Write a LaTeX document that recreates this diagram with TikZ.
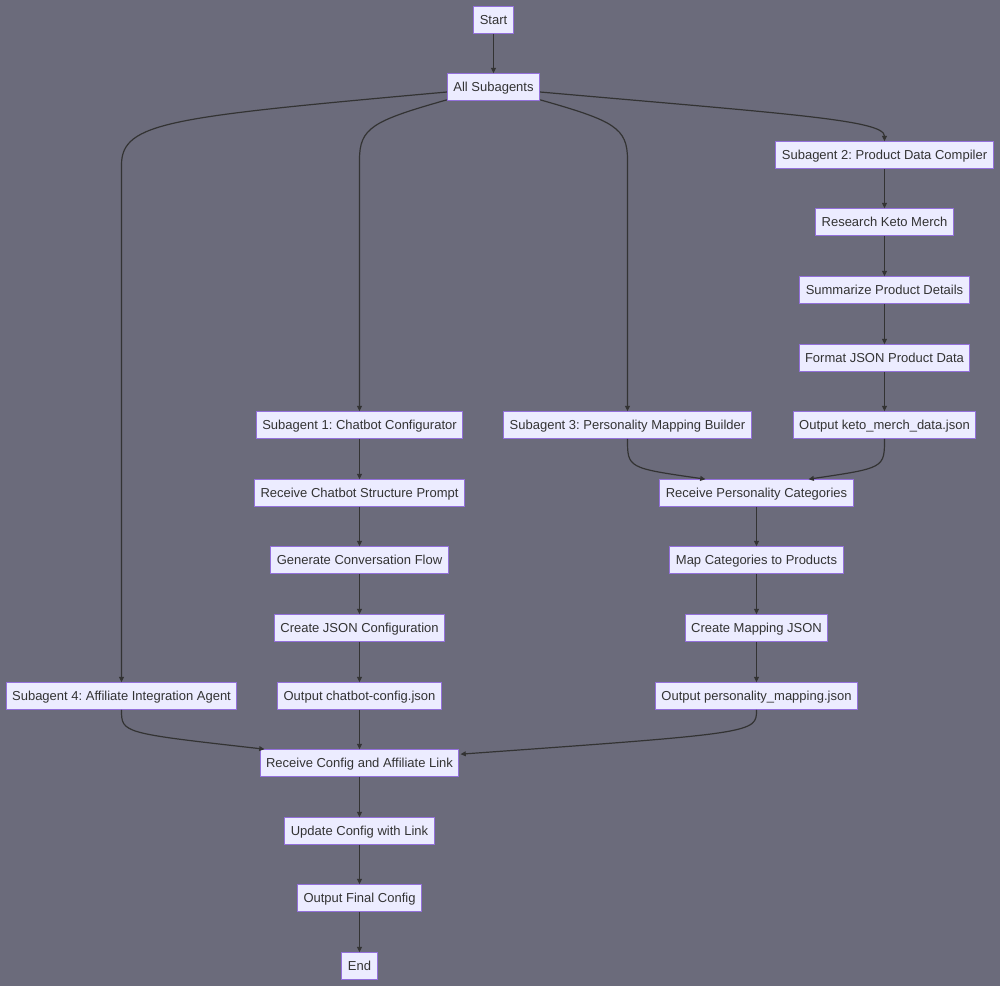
\documentclass[tikz,border=0pt]{standalone}
\usepackage{fontspec}
\setmainfont{Liberation Sans}
\usepackage{tikz}
\usetikzlibrary{arrows.meta,positioning,calc}
\frenchspacing
\definecolor{bgcol}{HTML}{6B6B7B}
\definecolor{boxfill}{HTML}{ECECFF}
\definecolor{boxline}{HTML}{9370DB}
\definecolor{linecol}{HTML}{333333}
\tikzstyle{box}=[rectangle,draw=boxline,fill=boxfill,line width=0.75pt,minimum height=20pt,inner xsep=4.5pt,inner ysep=0pt,text height=8.5pt,text depth=1.3pt,text=linecol,font=\fontsize{9.75}{11}\selectfont]
\tikzstyle{arr}=[draw=linecol,line width=0.9pt,-{Triangle[length=4pt,width=3.6pt]}]

\begin{document}
\begin{tikzpicture}[x=0.75pt,y=-0.75pt]
      \fill[bgcol] (0,0) rectangle (1000,986);
      \useasboundingbox (0,0) rectangle (1000,986);
      % top
      \node[box] at (493.5, 20) (start) {Start};
      \node[box] at (493.5, 87) (all) {All Subagents};
      % subagent 2
      \node[box] at (884.5, 155) (sa2) {Subagent 2: Product Data Compiler};
      \node[box] at (884.5, 222) (rkm) {Research Keto Merch};
      \node[box] at (884.5, 290) (spd) {Summarize Product Details};
      \node[box] at (884.5, 358) (fjp) {Format JSON Product Data};
      \node[box] at (884.5, 425) (okm) {Output keto\_merch\_data.json};
      % subagent 1
      \node[box] at (359.5, 425) (sa1) {Subagent 1: Chatbot Configurator};
      \node[box] at (359.5, 493) (rcs) {Receive Chatbot Structure Prompt};
      \node[box] at (359.5, 560) (gcf) {Generate Conversation Flow};
      \node[box] at (359.5, 628) (cjc) {Create JSON Configuration};
      \node[box] at (359.5, 696) (occ) {Output chatbot-config.json};
      % subagent 3
      \node[box] at (627.5, 425) (sa3) {Subagent 3: Personality Mapping Builder};
      \node[box] at (756.5, 493) (rpc) {Receive Personality Categories};
      \node[box] at (756.5, 560) (mcp) {Map Categories to Products};
      \node[box] at (756.5, 628) (cmj) {Create Mapping JSON};
      \node[box] at (756.5, 696) (opm) {Output personality\_mapping.json};
      % subagent 4
      \node[box] at (121.5, 696) (sa4) {Subagent 4: Affiliate Integration Agent};
      \node[box] at (359.5, 763) (rcal) {Receive Config and Affiliate Link};
      \node[box] at (359.5, 831) (ucl) {Update Config with Link};
      \node[box] at (359.5, 898) (ofc) {Output Final Config};
      \node[box] at (359.5, 966) (end) {End};

      \draw[arr] (start) -- (all);
      \draw[arr] ($(all.west)+(0,5)$) .. controls (170,117) and (121.5,122) .. (121.5,165) -- (sa4);
      \draw[arr] ($(all.south west)+(0,-1)$) .. controls (372,121) and (359.5,128) .. (359.5,160) -- (sa1);
      \draw[arr] ($(all.south east)+(0,-1)$) .. controls (615,121) and (627.5,128) .. (627.5,160) -- (sa3);
      \draw[arr] ($(all.east)+(0,5)$) .. controls (790,114) and (884.5,120) .. (sa2.north);
      \draw[arr] (sa2) -- (rkm);
      \draw[arr] (rkm) -- (spd);
      \draw[arr] (spd) -- (fjp);
      \draw[arr] (fjp) -- (okm);
      \draw[arr] (sa1) -- (rcs);
      \draw[arr] (rcs) -- (gcf);
      \draw[arr] (gcf) -- (cjc);
      \draw[arr] (cjc) -- (occ);
      \draw[arr] (sa3.south) .. controls (627.5,468) .. ($(rpc.north)+(-51,0)$);
      \draw[arr] (okm.south) .. controls (884.5,468) .. ($(rpc.north)+(52,0)$);
      \draw[arr] (rpc) -- (mcp);
      \draw[arr] (mcp) -- (cmj);
      \draw[arr] (cmj) -- (opm);
      \draw[arr] (sa4.south) .. controls (121.5,733) .. ($(rcal.north west)+(5,0)$);
      \draw[arr] (occ) -- (rcal);
      \draw[arr] (opm.south) .. controls (756.5,733) .. ($(rcal.north east)+(1,5)$);
      \draw[arr] (rcal) -- (ucl);
      \draw[arr] (ucl) -- (ofc);
      \draw[arr] (ofc) -- (end);
\end{tikzpicture}
\end{document}
